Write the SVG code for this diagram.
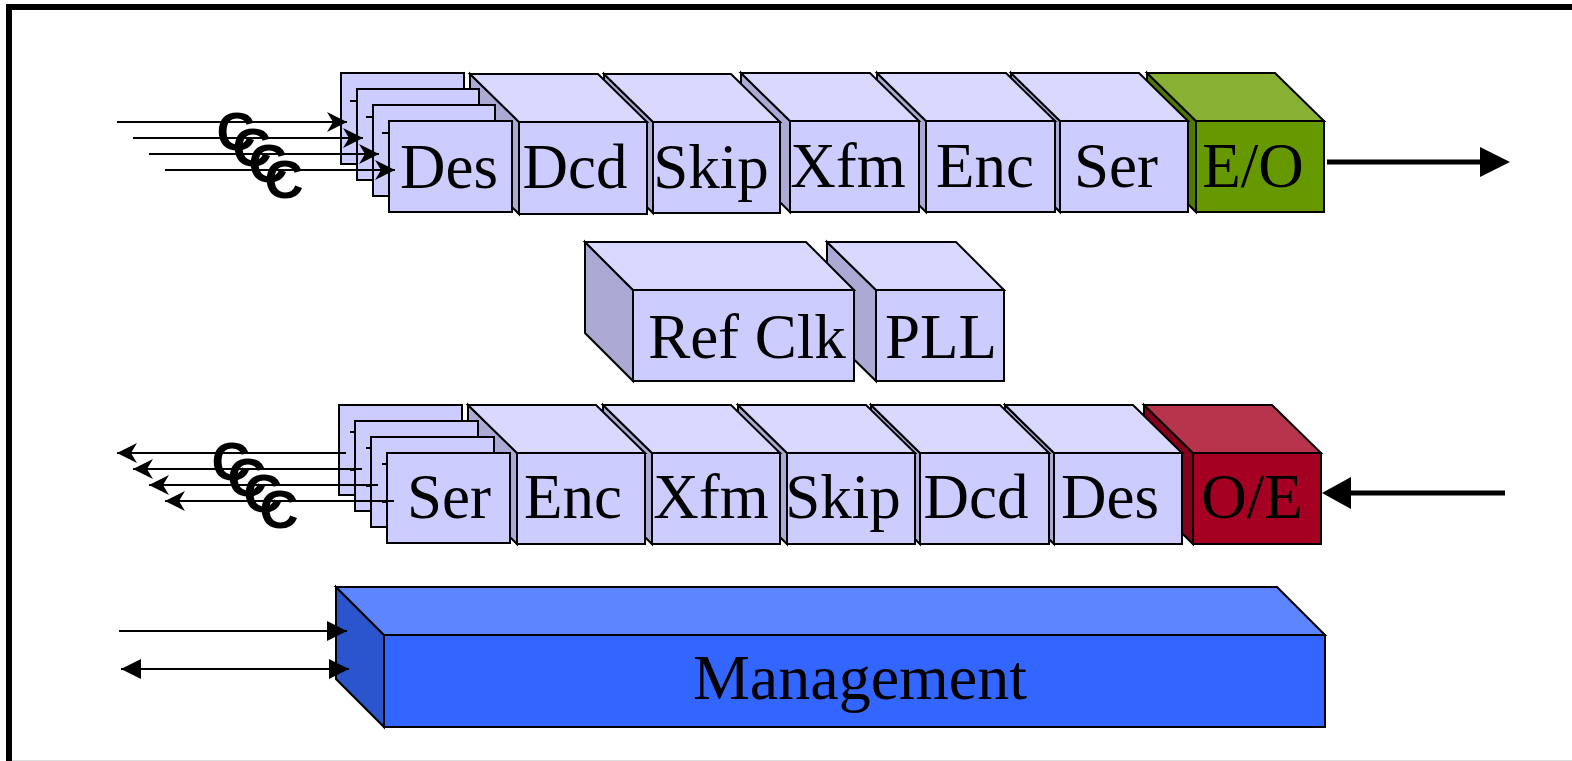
<svg xmlns="http://www.w3.org/2000/svg" width="1572" height="761" viewBox="0 0 1572 761">
<style>
.ln{stroke:#000;stroke-width:2;stroke-linejoin:miter}
.f{fill:#CCCCFF}.t{fill:#D9D9FF}.s{fill:#AAAAD4}
.gf{fill:#669900}.gt{fill:#88B033}.gs{fill:#4E7A00}
.rf{fill:#A50021}.rt{fill:#B8334C}.rs{fill:#85001A}
.mf{fill:#3366FF}.mt{fill:#5C85FF}.ms{fill:#2A55CC}
.lbl{font-family:"Liberation Serif","Times New Roman",serif;font-size:63px;fill:#000;text-anchor:middle}
.c{font-family:"Liberation Sans",Arial,sans-serif;font-weight:bold;font-size:54px;fill:#000;text-anchor:middle}
.w{stroke:#000;stroke-width:2;fill:none}
.k{stroke:#000;stroke-width:5;fill:none}
</style>
<defs>
<marker id="st" markerUnits="userSpaceOnUse" markerWidth="24" markerHeight="24" refX="20" refY="10" orient="auto" viewBox="0 0 24 24">
<path d="M20,10 L0,0 L6,10 L0,20 Z" fill="#000"/>
</marker>
<marker id="tri" markerUnits="userSpaceOnUse" markerWidth="24" markerHeight="24" refX="20" refY="10" orient="auto-start-reverse" viewBox="0 0 24 24">
<path d="M20,10 L0,0 L0,20 Z" fill="#000"/>
</marker>
</defs>
<rect x="9" y="7" width="1600" height="800" fill="none" stroke="#000" stroke-width="6"/>
<line x1="12" y1="760.5" x2="1572" y2="760.5" stroke="#DDDDDD" stroke-width="1"/>

<!-- top row, drawn right to left -->
<g id="eo">
<polygon class="ln gs" points="1196,121 1196,212 1147,164 1147,73"/>
<polygon class="ln gt" points="1196,121 1324,121 1275,73 1147,73"/>
<rect class="ln gf" x="1196" y="121" width="128" height="91"/>
<text class="lbl" x="1253" y="187">E/O</text>
</g>
<g id="ser1">
<polygon class="ln s" points="1060,121 1060,212 1011,164 1011,73"/>
<polygon class="ln t" points="1060,121 1188,121 1139,73 1011,73"/>
<rect class="ln f" x="1060" y="121" width="128" height="91"/>
<text class="lbl" x="1116" y="187">Ser</text>
</g>
<g id="enc1">
<polygon class="ln s" points="926,121 926,212 877,164 877,73"/>
<polygon class="ln t" points="926,121 1055,121 1006,73 877,73"/>
<rect class="ln f" x="926" y="121" width="129" height="91"/>
<text class="lbl" x="985" y="187">Enc</text>
</g>
<g id="xfm1">
<polygon class="ln s" points="790,121 790,212 741,164 741,73"/>
<polygon class="ln t" points="790,121 919,121 870,73 741,73"/>
<rect class="ln f" x="790" y="121" width="129" height="91"/>
<text class="lbl" x="848" y="187">Xfm</text>
</g>
<g id="skip1">
<polygon class="ln s" points="653,122 653,213 604,165 604,74"/>
<polygon class="ln t" points="653,122 780,122 731,74 604,74"/>
<rect class="ln f" x="653" y="122" width="127" height="91"/>
<text class="lbl" x="711" y="188">Skip</text>
</g>
<g id="dcd1">
<polygon class="ln s" points="519,122 519,214 470,166 470,74"/>
<polygon class="ln t" points="519,122 647,122 598,74 470,74"/>
<rect class="ln f" x="519" y="122" width="128" height="92"/>
<text class="lbl" x="575" y="188">Dcd</text>
</g>
<g id="des1">
<rect class="ln f" x="341" y="73" width="123" height="91"/>
<rect class="ln f" x="357" y="89" width="122" height="91"/>
<rect class="ln f" x="373" y="105" width="122" height="91"/>
<rect class="ln f" x="389" y="121" width="123" height="91"/>
<line class="w" x1="350" y1="101" x2="356" y2="101"/>
<line class="w" x1="366" y1="117" x2="372" y2="117"/>
<line class="w" x1="382" y1="133" x2="388" y2="133"/>
<text class="lbl" x="449" y="188">Des</text>
</g>

<!-- middle -->
<g id="pll">
<polygon class="ln s" points="876,290 876,381 827,333 827,242"/>
<polygon class="ln t" points="876,290 1004,290 956,242 827,242"/>
<rect class="ln f" x="876" y="290" width="128" height="91"/>
<text class="lbl" x="941" y="358">PLL</text>
</g>
<g id="refclk">
<polygon class="ln s" points="633,290 633,381 585,333 585,242"/>
<polygon class="ln t" points="633,290 854,290 806,242 585,242"/>
<rect class="ln f" x="633" y="290" width="221" height="91"/>
<text class="lbl" x="747" y="358">Ref Clk</text>
</g>

<!-- bottom row -->
<g id="oe">
<polygon class="ln rs" points="1193,453 1193,544 1144,496 1144,405"/>
<polygon class="ln rt" points="1193,453 1321,453 1272,405 1144,405"/>
<rect class="ln rf" x="1193" y="453" width="128" height="91"/>
<text class="lbl" x="1252" y="518">O/E</text>
</g>
<g id="des2">
<polygon class="ln s" points="1054,453 1054,544 1005,496 1005,405"/>
<polygon class="ln t" points="1054,453 1182,453 1133,405 1005,405"/>
<rect class="ln f" x="1054" y="453" width="128" height="91"/>
<text class="lbl" x="1110" y="518">Des</text>
</g>
<g id="dcd2">
<polygon class="ln s" points="920,453 920,544 871,496 871,405"/>
<polygon class="ln t" points="920,453 1049,453 1000,405 871,405"/>
<rect class="ln f" x="920" y="453" width="129" height="91"/>
<text class="lbl" x="976" y="518">Dcd</text>
</g>
<g id="skip2">
<polygon class="ln s" points="787,453 787,544 738,496 738,405"/>
<polygon class="ln t" points="787,453 915,453 866,405 738,405"/>
<rect class="ln f" x="787" y="453" width="128" height="91"/>
<text class="lbl" x="843" y="518">Skip</text>
</g>
<g id="xfm2">
<polygon class="ln s" points="652,453 652,544 603,496 603,405"/>
<polygon class="ln t" points="652,453 780,453 731,405 603,405"/>
<rect class="ln f" x="652" y="453" width="128" height="91"/>
<text class="lbl" x="711" y="518">Xfm</text>
</g>
<g id="enc2">
<polygon class="ln s" points="517,453 517,544 468,496 468,405"/>
<polygon class="ln t" points="517,453 645,453 596,405 468,405"/>
<rect class="ln f" x="517" y="453" width="128" height="91"/>
<text class="lbl" x="573" y="518">Enc</text>
</g>
<g id="ser2">
<rect class="ln f" x="339" y="405" width="123" height="90"/>
<rect class="ln f" x="355" y="421" width="123" height="90"/>
<rect class="ln f" x="371" y="437" width="123" height="90"/>
<rect class="ln f" x="387" y="453" width="123" height="90"/>
<line class="w" x1="350" y1="432" x2="355" y2="432"/>
<line class="w" x1="350" y1="470" x2="355" y2="470"/>
<line class="w" x1="366" y1="448" x2="371" y2="448"/>
<line class="w" x1="366" y1="486" x2="371" y2="486"/>
<line class="w" x1="382" y1="464" x2="387" y2="464"/>
<line class="w" x1="382" y1="502" x2="387" y2="502"/>
<text class="lbl" x="449" y="518">Ser</text>
</g>

<g id="management">
<polygon class="ln ms" points="384,635 384,727 336,679 336,587"/>
<polygon class="ln mt" points="384,635 1325,635 1277,587 336,587"/>
<rect class="ln mf" x="384" y="635" width="941" height="92"/>
<text class="lbl" x="860" y="699" style="font-size:64px">Management</text>
</g>

<g id="connectors">
<line class="w" x1="117" y1="122" x2="347" y2="122" marker-end="url(#st)"/>
<line class="w" x1="133" y1="138" x2="363" y2="138" marker-end="url(#st)"/>
<line class="w" x1="149" y1="154" x2="379" y2="154" marker-end="url(#st)"/>
<line class="w" x1="165" y1="170" x2="395" y2="170" marker-end="url(#st)"/>
<line class="w" x1="346" y1="453" x2="117" y2="453" marker-end="url(#st)"/>
<line class="w" x1="362" y1="469" x2="133" y2="469" marker-end="url(#st)"/>
<line class="w" x1="378" y1="485" x2="149" y2="485" marker-end="url(#st)"/>
<line class="w" x1="394" y1="501" x2="165" y2="501" marker-end="url(#st)"/>
<line class="w" x1="119" y1="631" x2="347" y2="631" marker-end="url(#tri)"/>
<line class="w" x1="121" y1="669" x2="349" y2="669" marker-start="url(#tri)" marker-end="url(#tri)"/>
<line class="k" x1="1327" y1="162" x2="1482" y2="162"/>
<polygon points="1510,162 1480,147 1480,177" fill="#000"/>
<line class="k" x1="1505" y1="493" x2="1349" y2="493"/>
<polygon points="1322,493 1351,477 1351,509" fill="#000"/>
</g>

<g id="labels-c">
<text class="c" x="236" y="150">C</text>
<text class="c" x="252" y="166">C</text>
<text class="c" x="268" y="182">C</text>
<text class="c" x="284" y="198">C</text>
<text class="c" x="231" y="480">C</text>
<text class="c" x="247" y="496">C</text>
<text class="c" x="263" y="512">C</text>
<text class="c" x="279" y="528">C</text>
</g>
</svg>
